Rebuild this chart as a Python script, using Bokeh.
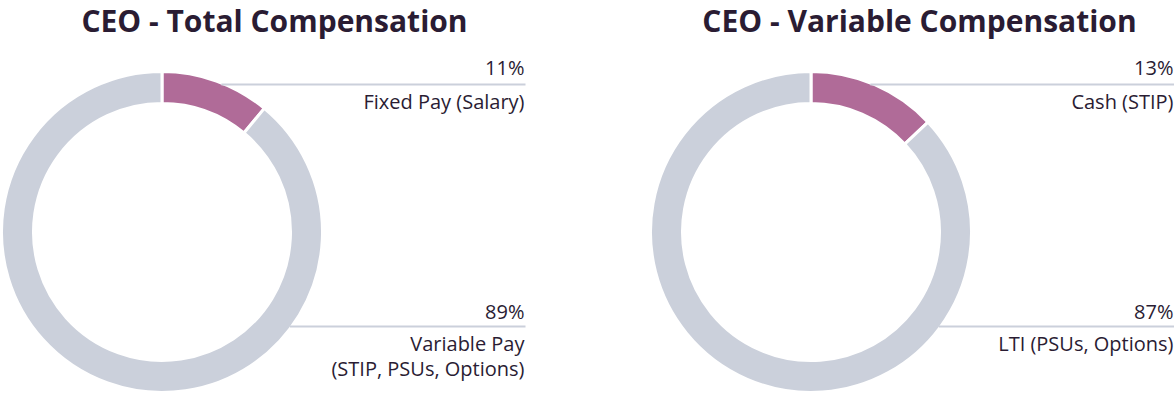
import math
from bokeh.plotting import figure
from bokeh.models import Range1d
from bokeh.core.properties import value
from bokeh.embed import file_html
from bokeh.resources import INLINE

# ---- data ----
titles = ["CEO - Total Compensation", "CEO - Variable Compensation"]
total_labels = ["Fixed Pay (Salary)", "Variable Pay\n(STIP, PSUs, Options)"]
total_values = [11, 89]
variable_labels = ["Cash (STIP)", "LTI (PSUs, Options)"]
variable_values = [13, 87]
slice_colors = ["#B06B98", "#CBD0DB"]

# ---- style ----
W, H = 1174, 394
FONT = "Open Sans"
TEXT_COLOR = "#2A1C33"
LINE_COLOR = "#CBD0DB"
R_OUT, R_IN = 159.0, 130.0
CY = 231.5  # pixel row of donut centre
TITLE_SIZE = 30
TITLE_BASE = 33
LABEL_SIZE = 20
BASE_SHIFT = 0.45  # svg text sits lower than the requested baseline

panels = [
    dict(title=titles[0], labels=total_labels, values=total_values,
         cx=161.5, title_x=274, label_x=524),
    dict(title=titles[1], labels=variable_labels, values=variable_values,
         cx=810.5, title_x=919, label_x=1173),
]

p = figure(width=W, height=H, x_range=Range1d(0, W), y_range=Range1d(0, H),
           output_backend="svg", toolbar_location=None, min_border=0)
p.xaxis.visible = False
p.yaxis.visible = False
p.xgrid.visible = False
p.ygrid.visible = False
p.outline_line_color = None
p.background_fill_color = "white"
p.border_fill_color = "white"


def Y(py):
    return H - py


def TY(py, size):
    return H - (py - BASE_SHIFT * size)


# label layout: (pct baseline, rule row, first label baseline) per slice
label_rows = [(76, 84, 110), (320, 326, 352)]
LINE_STEP = 25

for pan in panels:
    cx = pan["cx"]
    vals = pan["values"]
    total = float(sum(vals))
    start = math.pi / 2
    for i, v in enumerate(vals):
        end = start - 2 * math.pi * v / total
        p.annular_wedge(x=[cx], y=[Y(CY)], inner_radius=R_IN - 1.5,
                        outer_radius=R_OUT + 1.5, start_angle=[start],
                        end_angle=[end], direction="clock",
                        fill_color=slice_colors[i], line_color="white",
                        line_width=3)
        start = end

    # title
    p.text(x=[pan["title_x"]], y=[TY(TITLE_BASE, TITLE_SIZE)], text=[pan["title"]],
           text_font=value(FONT), text_font_style="bold",
           text_font_size=f"{TITLE_SIZE}px", text_color=TEXT_COLOR,
           text_align="center", text_baseline="alphabetic")

    for i, (lab, v) in enumerate(zip(pan["labels"], vals)):
        pct_y, rule_y, lab_y = label_rows[i]
        dy = abs(rule_y - CY)
        x0 = cx + math.sqrt(max(R_OUT ** 2 - dy ** 2, 0))
        p.segment(x0=[x0], y0=[Y(rule_y)], x1=[pan["label_x"] + 1],
                  y1=[Y(rule_y)], line_color=LINE_COLOR, line_width=2)
        p.text(x=[pan["label_x"]], y=[TY(pct_y, LABEL_SIZE)], text=[f"{v}%"],
               text_font=value(FONT), text_font_size=f"{LABEL_SIZE}px",
               text_color=TEXT_COLOR, text_align="right",
               text_baseline="alphabetic")
        for k, line in enumerate(lab.split("\n")):
            p.text(x=[pan["label_x"]], y=[TY(lab_y + k * LINE_STEP, LABEL_SIZE)],
                   text=[line], text_font=value(FONT),
                   text_font_size=f"{LABEL_SIZE}px", text_color=TEXT_COLOR,
                   text_align="right", text_baseline="alphabetic")

open("out.html", "w").write(file_html(p, INLINE))
